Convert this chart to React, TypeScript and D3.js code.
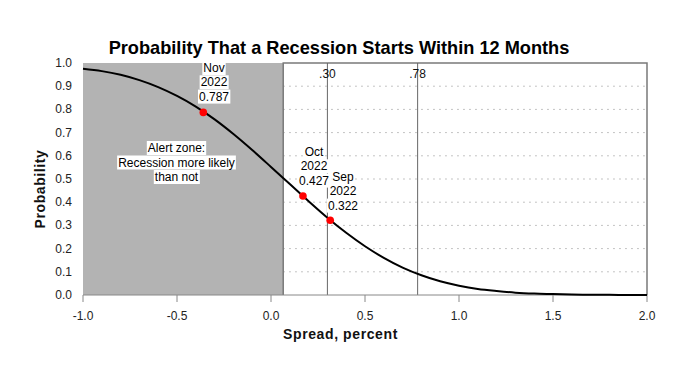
import React, { useEffect, useRef } from "react";
import * as d3 from "d3";

const spreadGrid = [-1.0, -0.9, -0.8, -0.7, -0.6, -0.5, -0.4, -0.3, -0.2, -0.1, 0.0, 0.1, 0.2, 0.3, 0.4, 0.5, 0.6, 0.7, 0.8, 0.9, 1.0, 1.1, 1.2, 1.3, 1.4, 1.5, 1.6, 1.7, 1.8, 1.9, 2.0];
const probability = [0.975, 0.965, 0.949, 0.926, 0.896, 0.858, 0.812, 0.757, 0.694, 0.625, 0.552, 0.478, 0.404, 0.333, 0.268, 0.21, 0.16, 0.118, 0.085, 0.059, 0.04, 0.026, 0.017, 0.01, 0.006, 0.004, 0.002, 0.001, 0.001, 0.0, 0.0];

const pointLabels = ["Nov 2022", "Oct 2022", "Sep 2022"];
const pointSpread = [-0.36, 0.17, 0.315];
const pointProb = [0.787, 0.427, 0.322];

const refLines = [0.3, 0.78];
const refLineLabels = [".30", ".78"];
const alertZoneEnd = 0.065;
const alertText = ["Alert zone:", "Recession more likely", "than not"];

const xTicks = [-1.0, -0.5, 0.0, 0.5, 1.0, 1.5, 2.0];
const yTicks = [0.0, 0.1, 0.2, 0.3, 0.4, 0.5, 0.6, 0.7, 0.8, 0.9, 1.0];

const W = 680;
const H = 382;
const FONT = "'Liberation Sans', Arial, sans-serif";

export default function App() {
  const ref = useRef<SVGSVGElement | null>(null);

  useEffect(() => {
    const svg = d3.select(ref.current);
    svg.selectAll("*").remove();

    const x = d3.scaleLinear().domain([-1, 2]).range([83, 647]);
    const y = d3.scaleLinear().domain([0, 1]).range([295, 63]);

    const g = svg.append("g");

    // white plot area box
    g.append("rect")
      .attr("x", x(alertZoneEnd)).attr("y", y(1))
      .attr("width", x(2) - x(alertZoneEnd)).attr("height", y(0) - y(1))
      .attr("fill", "#fff");

    // gridlines
    yTicks.filter(t => t > 0 && t < 1).forEach(t => {
      g.append("line")
        .attr("x1", x(alertZoneEnd)).attr("x2", x(2))
        .attr("y1", y(t)).attr("y2", y(t))
        .attr("stroke", "#b0b0b0").attr("stroke-width", 1)
        .attr("stroke-dasharray", "1.5,4.5");
    });

    // alert zone
    g.append("rect")
      .attr("x", x(-1)).attr("y", y(1))
      .attr("width", x(alertZoneEnd) - x(-1)).attr("height", y(0) - y(1))
      .attr("fill", "#b3b3b3");

    // box border
    g.append("path")
      .attr("d", `M${x(alertZoneEnd)},${y(0)}V${y(1)}H${x(2)}V${y(0)}`)
      .attr("fill", "none").attr("stroke", "#7a7a7a").attr("stroke-width", 1.5);

    // ref lines
    refLines.forEach((v, i) => {
      g.append("line")
        .attr("x1", x(v)).attr("x2", x(v))
        .attr("y1", y(1)).attr("y2", y(0))
        .attr("stroke", "#666").attr("stroke-width", 1);
      g.append("text")
        .attr("x", x(v)).attr("y", 78)
        .attr("text-anchor", "middle")
        .attr("font-family", FONT).attr("font-size", 12).attr("fill", "#111")
        .text(refLineLabels[i]);
    });

    // baseline
    g.append("line")
      .attr("x1", x(-1)).attr("x2", x(2))
      .attr("y1", y(0)).attr("y2", y(0))
      .attr("stroke", "#888").attr("stroke-width", 1);

    // x ticks
    xTicks.forEach(t => {
      g.append("line")
        .attr("x1", x(t)).attr("x2", x(t))
        .attr("y1", y(0)).attr("y2", y(0) + 7)
        .attr("stroke", "#888").attr("stroke-width", 1);
      g.append("text")
        .attr("x", x(t)).attr("y", 320)
        .attr("text-anchor", "middle")
        .attr("font-family", FONT).attr("font-size", 12).attr("fill", "#222")
        .text(d3.format(".1f")(t).replace("−", "-"));
    });

    // y tick labels
    yTicks.forEach(t => {
      g.append("text")
        .attr("x", 72).attr("y", y(t) + 4)
        .attr("text-anchor", "end")
        .attr("font-family", FONT).attr("font-size", 12).attr("fill", "#222")
        .text(d3.format(".1f")(t));
    });

    // curve
    const data = spreadGrid.map((s, i) => [s, probability[i]] as [number, number]);
    const line = d3.line<[number, number]>()
      .x(d => x(d[0])).y(d => y(d[1]))
      .curve(d3.curveMonotoneX);
    g.append("path")
      .attr("d", line(data) as string)
      .attr("fill", "none").attr("stroke", "#000").attr("stroke-width", 2);

    // labeled text with white backgrounds per line
    const labelBlock = (lines: string[], cx: number, firstBaseline: number, lineH: number, anchor: string) => {
      const grp = g.append("g");
      lines.forEach((ln, i) => {
        const t = grp.append("text")
          .attr("x", cx).attr("y", firstBaseline + i * lineH)
          .attr("text-anchor", anchor)
          .attr("font-family", FONT).attr("font-size", 12).attr("fill", "#000")
          .text(ln);
        const bb = (t.node() as SVGTextElement).getBBox();
        grp.insert("rect", "text")
          .attr("x", bb.x - 1).attr("y", bb.y)
          .attr("width", bb.width + 2).attr("height", bb.height)
          .attr("fill", "#fff");
      });
    };

    labelBlock(alertText, 176.5, 152, 14.5, "middle");

    const labelPos = [
      { cx: 214, top: 72 },
      { cx: 314, top: 156 },
      { cx: 343, top: 181 },
    ];
    pointLabels.forEach((lab, i) => {
      const [mon, yr] = lab.split(" ");
      labelBlock([mon, yr, " " + d3.format(".3f")(pointProb[i])], labelPos[i].cx, labelPos[i].top, 14.3, "middle");
    });

    // points
    pointSpread.forEach((s, i) => {
      g.append("circle")
        .attr("cx", x(s)).attr("cy", y(pointProb[i]))
        .attr("r", 3.8).attr("fill", "#ff0000");
    });

    // title
    svg.append("text")
      .attr("x", 339).attr("y", 54)
      .attr("text-anchor", "middle")
      .attr("font-family", FONT).attr("font-weight", "bold").attr("font-size", 18.2)
      .attr("fill", "#000")
      .text("Probability That a Recession Starts Within 12 Months");

    // axis titles
    svg.append("text")
      .attr("x", 340.5).attr("y", 339)
      .attr("text-anchor", "middle")
      .attr("font-family", FONT).attr("font-weight", "bold").attr("font-size", 14)
      .attr("letter-spacing", 0.6)
      .attr("fill", "#111")
      .text("Spread, percent");

    svg.append("text")
      .attr("transform", `translate(45,${189}) rotate(-90)`)
      .attr("text-anchor", "middle")
      .attr("font-family", FONT).attr("font-weight", "bold").attr("font-size", 14)
      .attr("letter-spacing", 0.6)
      .attr("fill", "#111")
      .text("Probability");
  }, []);

  return (
    <svg
      ref={ref}
      width={W}
      height={H}
      style={{ position: "absolute", left: 0, top: 0, background: "#fff" }}
    />
  );
}
